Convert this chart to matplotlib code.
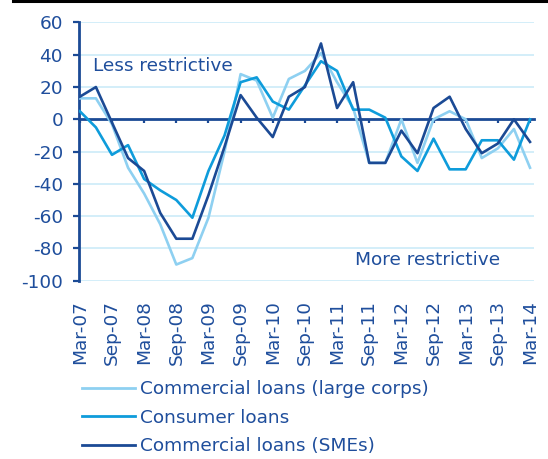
import matplotlib
matplotlib.use('Agg')
import matplotlib.pyplot as plt
import numpy as np
from matplotlib.lines import Line2D

# Quarterly data, Mar-07 .. Mar-14 (29 quarters)
large_corps = [13, 13, -3, -30, -46, -65, -90, -86, -61, -20, 28, 24, 1, 25, 30,
               41, 23, 7, -27, -27, 0, -27, 0, 5, 0, -24, -18, -6, -30]
consumer = [5, -5, -22, -16, -37, -44, -50, -61, -32, -10, 23, 26, 11, 6, 21,
            36, 30, 6, 6, 1, -23, -32, -12, -31, -31, -13, -13, -25, 0]
smes = [14, 20, -2, -24, -32, -58, -74, -74, -47, -17, 15, 1, -11, 14, 20,
        47, 7, 23, -27, -27, -7, -21, 7, 14, -6, -21, -15, 0, -14]
tick_labels = ['Mar-07', 'Sep-07', 'Mar-08', 'Sep-08', 'Mar-09', 'Sep-09', 'Mar-10',
               'Sep-10', 'Mar-11', 'Sep-11', 'Mar-12', 'Sep-12', 'Mar-13', 'Sep-13', 'Mar-14']
series_names = ['Commercial loans (large corps)', 'Consumer loans', 'Commercial loans (SMEs)']

C_LIGHT = '#8ED0F1'
C_MID = '#0E9CDB'
C_DARK = '#1B4A95'
C_TEXT = '#1F4E9C'
C_GRID = '#C8E9F8'

plt.rcParams['font.family'] = ['DejaVu Sans']
FS = 13.3

fig = plt.figure(figsize=(5.48, 4.59), dpi=100)
ax = fig.add_axes([0.1442, 0.3885, 0.9745 - 0.1442, 0.951 - 0.3885])

x = np.arange(len(smes))
lw = 1.9
ax.plot(x, large_corps, color=C_LIGHT, lw=lw, label=series_names[0], zorder=3)
ax.plot(x, consumer, color=C_MID, lw=lw, label=series_names[1], zorder=4)
ax.plot(x, smes, color=C_DARK, lw=lw, label=series_names[2], zorder=5)

ax.set_xlim(-0.05, 28.25)
ax.set_ylim(-100, 60)
ax.set_yticks(np.arange(-100, 61, 20))
ax.set_yticklabels([str(v) for v in range(-100, 61, 20)])

# gridlines
for v in range(-100, 61, 20):
    if v != 0:
        ax.axhline(v, color=C_GRID, lw=1.1, zorder=1)

for s in ['top', 'right']:
    ax.spines[s].set_visible(False)
ax.spines['left'].set_color(C_DARK)
ax.spines['left'].set_linewidth(2.0)
ax.spines['bottom'].set_position(('data', 0))
ax.spines['bottom'].set_color(C_DARK)
ax.spines['bottom'].set_linewidth(2.0)
ax.spines['bottom'].set_zorder(2)

ax.tick_params(axis='y', direction='out', length=4.5, width=1.6, color=C_DARK,
               labelsize=FS, labelcolor=C_TEXT, pad=7)
ax.set_xticks(np.arange(0, 29, 2))
ax.tick_params(axis='x', direction='out', length=3, width=1.6, color=C_DARK,
               labelbottom=False)

sec = ax.secondary_xaxis(0)
sec.set_xticks(np.arange(0, 29, 2))
sec.set_xticklabels(tick_labels, rotation=90)
sec.tick_params(axis='x', length=0, pad=14, labelsize=FS, labelcolor=C_TEXT)
sec.spines['bottom'].set_visible(False)

ax.text(0.8, 33, 'Less restrictive', color=C_TEXT, fontsize=FS, va='center', ha='left')
ax.text(17.1, -87, 'More restrictive', color=C_TEXT, fontsize=FS, va='center', ha='left')

fig.legend(loc='upper left', bbox_to_anchor=(0.150, 0.1715), frameon=False,
           fontsize=FS, handlelength=2.85, handletextpad=0.3, labelspacing=0.57,
           borderpad=0, borderaxespad=0, labelcolor=C_TEXT)
leg = fig.legends[0]
for h in leg.legend_handles:
    h.set_linewidth(2.0)

# black rule at top of figure
fig.add_artist(Line2D([13 / 548, 1.0], [1 - 1 / 459, 1 - 1 / 459], color='black', lw=2.2,
                      transform=fig.transFigure))

fig.savefig('out.png', dpi=100)
